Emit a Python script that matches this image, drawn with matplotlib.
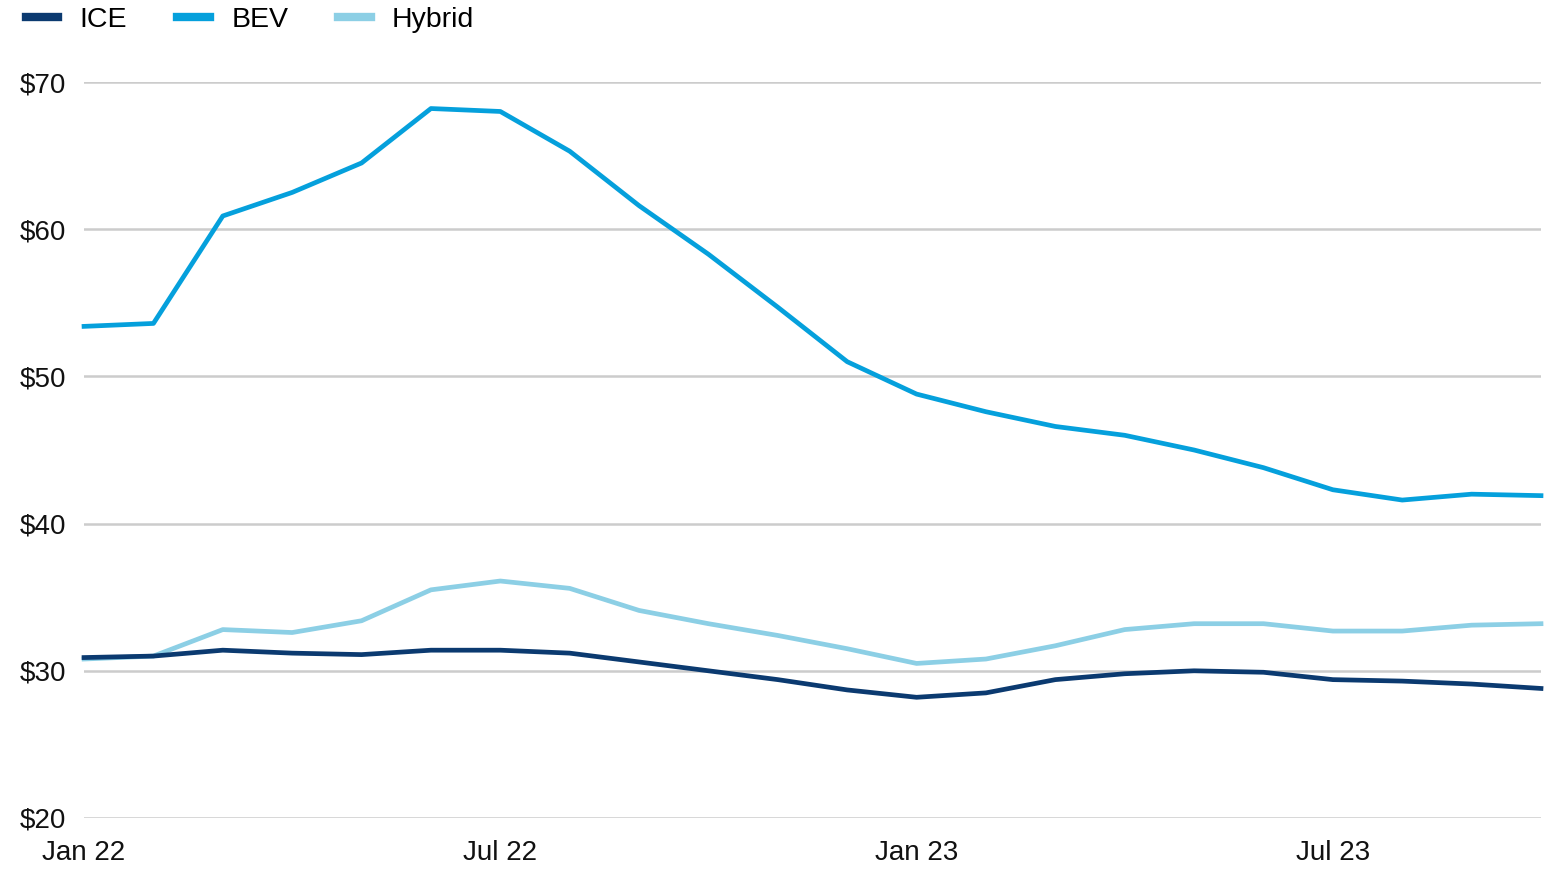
import matplotlib.pyplot as plt

plt.rcParams['font.family'] = ['Liberation Sans', 'DejaVu Sans']

# monthly data, Jan 22 - Oct 23
months = ['Jan 22', 'Feb 22', 'Mar 22', 'Apr 22', 'May 22', 'Jun 22', 'Jul 22', 'Aug 22',
          'Sep 22', 'Oct 22', 'Nov 22', 'Dec 22', 'Jan 23', 'Feb 23', 'Mar 23', 'Apr 23',
          'May 23', 'Jun 23', 'Jul 23', 'Aug 23', 'Sep 23', 'Oct 23']
ice = [30.9, 31.0, 31.4, 31.2, 31.1, 31.4, 31.4, 31.2, 30.6, 30.0, 29.4, 28.7,
       28.2, 28.5, 29.4, 29.8, 30.0, 29.9, 29.4, 29.3, 29.1, 28.8]
bev = [53.4, 53.6, 60.9, 62.5, 64.5, 68.2, 68.0, 65.3, 61.6, 58.3, 54.7, 51.0,
       48.8, 47.6, 46.6, 46.0, 45.0, 43.8, 42.3, 41.6, 42.0, 41.9]
hybrid = [30.8, 31.0, 32.8, 32.6, 33.4, 35.5, 36.1, 35.6, 34.1, 33.2, 32.4, 31.5,
          30.5, 30.8, 31.7, 32.8, 33.2, 33.2, 32.7, 32.7, 33.1, 33.2]
yticks = [20, 30, 40, 50, 60, 70]

x = list(range(len(months)))

fig = plt.figure(figsize=(15.45, 8.69), dpi=100)
ax = fig.add_axes([0.0544, 0.0587, 0.943, 0.8469])

ax.plot(x, ice, color='#0b3a70', lw=3.4, label='ICE', clip_on=False, zorder=4)
ax.plot(x, hybrid, color='#8ccfe5', lw=3.4, label='Hybrid', clip_on=False, zorder=3)
ax.plot(x, bev, color='#05a0dc', lw=3.4, label='BEV', clip_on=False, zorder=3)

ax.set_xlim(0, len(months) - 1)
ax.set_ylim(20, 70)
ax.set_yticks(yticks)
ax.set_yticklabels(['$' + str(v) for v in yticks])
ax.set_xticks([0, 6, 12, 18])
ax.set_xticklabels([months[i] for i in [0, 6, 12, 18]])
ax.tick_params(axis='y', length=0, pad=13, labelsize=20, labelcolor='#111111')
ax.tick_params(axis='x', length=0, pad=16, labelsize=20, labelcolor='#111111')
ax.grid(axis='y', color='#cccccc', lw=1.8)
ax.set_axisbelow(True)
for s in ax.spines.values():
    s.set_visible(False)

h, l = ax.get_legend_handles_labels()
order = [0, 2, 1]
fig.legend([h[i] for i in order], [l[i] for i in order], loc='upper left',
           bbox_to_anchor=(0.0, 1.021), ncol=3, frameon=False, fontsize=20.5,
           handlelength=1.15, columnspacing=1.75, handletextpad=0.75)
for line in fig.legends[0].get_lines():
    line.set_linewidth(6)

fig.savefig('out.png', dpi=100)
